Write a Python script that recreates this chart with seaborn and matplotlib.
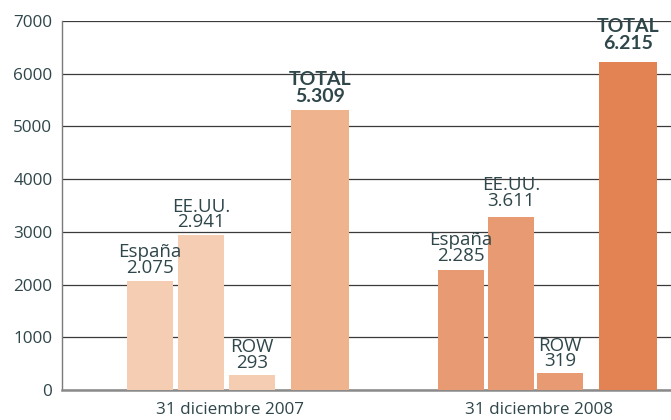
import numpy as np
import pandas as pd
import matplotlib
matplotlib.use("Agg")
import matplotlib.pyplot as plt
import seaborn as sns

# ---- data ----
categories = ["España", "EE.UU.", "ROW", "TOTAL"]
periods = ["31 diciembre 2007", "31 diciembre 2008"]
values_2007 = [2075, 2941, 293, 5309]
values_2008 = [2285, 3290, 319, 6215]
labels_2007 = ["2.075", "2.941", "293", "5.309"]
labels_2008 = ["2.285", "3.611", "319", "6.215"]
yticks = [0, 1000, 2000, 3000, 4000, 5000, 6000, 7000]

# ---- style ----
sns.set_theme(style="white")
plt.rcParams["font.family"] = ["Open Sans", "DejaVu Sans"]
text_color = "#2f464a"
colors = {
    ("2007", "comp"): "#f5cdb2",
    ("2007", "total"): "#efb38e",
    ("2008", "comp"): "#e89b72",
    ("2008", "total"): "#e38353",
}

# layout positions (x units, 1 unit ~ 50.5 px)
comp_pos = {"2007": [1.74, 2.75, 3.76], "2008": [7.90, 8.89, 9.86]}
total_pos = {"2007": 5.11, "2008": 11.21}
comp_w = 0.91
total_w = 1.15
label_offsets_px = {"2007": [4, 4, 3, 5], "2008": [5, 7, 3, 10]}

rows = []
for yr, vals, labs in [("2007", values_2007, labels_2007), ("2008", values_2008, labels_2008)]:
    for i, cat in enumerate(categories):
        kind = "total" if cat == "TOTAL" else "comp"
        pos = total_pos[yr] if kind == "total" else comp_pos[yr][i]
        rows.append(dict(year=yr, cat=cat, kind=kind, pos=pos, value=vals[i],
                         label=labs[i], key=f"{yr}-{cat}",
                         color=colors[(yr, kind)], off=label_offsets_px[yr][i]))
df = pd.DataFrame(rows)

fig = plt.figure(figsize=(6.71, 4.20), dpi=100)
ax = fig.add_axes([62 / 671, 30 / 420, 609 / 671, 369 / 420])

for kind, w in [("comp", comp_w), ("total", total_w)]:
    sub = df[df.kind == kind]
    native = np.nanmin(np.diff(np.unique(sub["pos"])))
    sns.barplot(data=sub, x="pos", y="value", hue="key",
                palette=dict(zip(sub["key"], sub["color"])),
                native_scale=True, width=w / native, dodge=False,
                saturation=1, legend=False, linewidth=0, ax=ax, zorder=3)

ax.set_xlim(0, 12.06)
ax.set_ylim(0, 7000)
ax.set_yticks(yticks)
ax.set_yticklabels([str(t) for t in yticks])
ax.yaxis.grid(True, color="#3a3a3a", linewidth=0.9, zorder=0)
ax.set_axisbelow(True)

group_centers = [3.33, 9.44]
ax.set_xticks(group_centers)
ax.set_xticklabels(periods)
ax.tick_params(axis="both", length=0, colors=text_color, labelsize=12.3)
ax.tick_params(axis="y", pad=7)
ax.tick_params(axis="x", pad=9)
ax.set_xlabel("")
ax.set_ylabel("")

for s in ["top", "right"]:
    ax.spines[s].set_visible(False)
ax.spines["left"].set_color("#7a7a7a")
ax.spines["left"].set_linewidth(1.0)
ax.spines["bottom"].set_color("#8a8a8a")
ax.spines["bottom"].set_linewidth(1.8)

for _, r in df.iterrows():
    bold = r["cat"] == "TOTAL"
    ax.annotate(f"{r['cat']}\n{r['label']}", xy=(r["pos"], r["value"]),
                xytext=(0, r["off"] * 0.72), textcoords="offset points",
                ha="center", va="bottom", fontsize=13.5 if not bold else 14,
                color=text_color, linespacing=0.8 if not bold else 1.02,
                fontweight="bold" if bold else "normal",
                family=["Lato", "DejaVu Sans"] if bold else ["Open Sans", "DejaVu Sans"],
                zorder=5)

fig.savefig("out.png", dpi=100)
